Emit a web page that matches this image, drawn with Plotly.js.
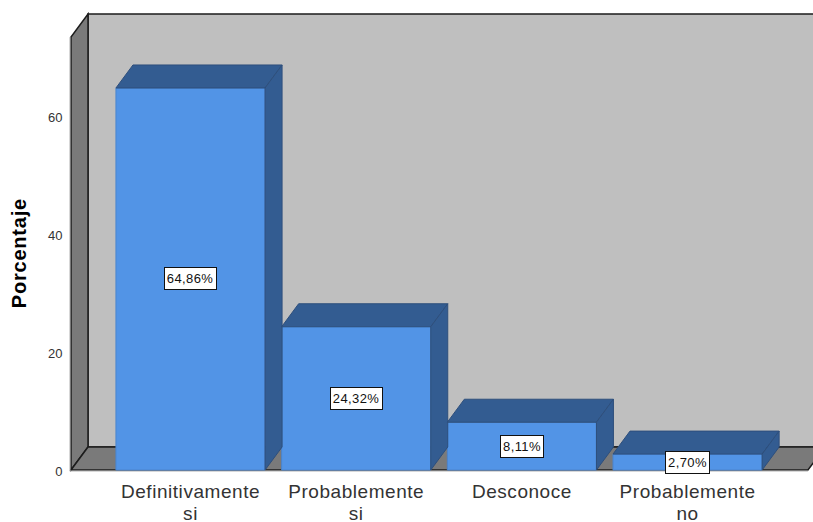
<!DOCTYPE html>
<html><head><meta charset="utf-8">
<script src="https://cdn.plot.ly/plotly-3.0.1.min.js"></script>
<style>html,body{margin:0;padding:0;background:#fff}
.xtick text{letter-spacing:.55px}
.annotation text{letter-spacing:.4px}
.annotation[data-index="4"] text{letter-spacing:.8px}
</style>
</head><body><div id="chart" style="width:813px;height:522px"></div>
<script>
const categories = ['Definitivamente<br>si','Probablemente<br>si','Desconoce','Probablemente<br>no'];
const values = [64.86,24.32,8.11,2.70];
const yTicks = [0,20,40,60];

const positions = categories.map((c,i)=>i);
const barWidth = 0.9, depthX = 0.1026, depthY = 3.905;
const xMin = -0.7394, xMax = 3.757, wallLeft = -0.7213, yMin = -0.51, yMax = 78.44, yWallTop = 73.5;
const FRONT='#5294E6', DARK='#335C91', EDGE='#2E4F7C', WALL='#BFBFBF', SIDE='#7A7A7A', INK='#1c1c1c', RULE='#c4c4c4';

function poly(xs,ys,fill,line,w){
  return {type:'path',xref:'x',yref:'y',layer:'below',fillcolor:fill,line:{color:line,width:w},
    path:xs.map((x,i)=>(i?'L':'M')+x+','+ys[i]).join(' ')+' Z'};
}
function rule(a,b,c,d){
  return {type:'line',xref:'x',yref:'y',layer:'below',x0:a,y0:b,x1:c,y1:d,line:{color:RULE,width:1}};
}
const x0=wallLeft, x1=wallLeft+depthX, xEnd=xMax+0.072;
const shapes=[
  poly([x1,xEnd,xEnd,x1],[depthY,depthY,yWallTop+depthY,yWallTop+depthY],WALL,INK,1.5),
  poly([x0,x1,x1,x0],[0,depthY,yWallTop+depthY,yWallTop],SIDE,INK,1.5),
  poly([x0,x1,xEnd,xEnd-depthX],[0,depthY,depthY,0],SIDE,INK,1.5),
  rule(x0-0.007,-0.2,x0-0.007,yWallTop),
  rule(x0-0.007,-0.2,xEnd-depthX,-0.2)
];

const traces=[{
  type:'bar',x:positions,y:values,width:barWidth,
  marker:{color:FRONT,line:{color:'#4A84CE',width:1}},hoverinfo:'skip',showlegend:false
}];
positions.forEach((p,i)=>{
  const l=p-barWidth/2,r=p+barWidth/2,v=values[i];
  traces.push({type:'scatter',mode:'lines',fill:'toself',fillcolor:DARK,line:{color:EDGE,width:1},
    x:[l,l+depthX,r+depthX,r,l],y:[v,v+depthY,v+depthY,v,v],hoverinfo:'skip',showlegend:false});
  traces.push({type:'scatter',mode:'lines',fill:'toself',fillcolor:DARK,line:{color:EDGE,width:1},
    x:[r,r+depthX,r+depthX,r,r],y:[0,depthY,v+depthY,v,0],hoverinfo:'skip',showlegend:false});
});

const annotations=positions.map((p,i)=>({
  x:p,y:values[i]/2,xref:'x',yref:'y',showarrow:false,
  text:values[i].toFixed(2).replace('.',',')+'%',
  font:{family:'Liberation Sans',size:13,color:'#111'},
  bgcolor:'#fff',bordercolor:'#111',borderwidth:1,borderpad:3
}));
annotations.push({
  x:-0.0658,y:36.8,xref:'paper',yref:'y',xanchor:'center',yanchor:'middle',showarrow:false,textangle:-90,
  text:'<b>Porcentaje</b>',font:{family:'Liberation Sans',size:20,color:'#000'}
});

const layout={
  width:813,height:522,margin:{l:68,r:0,t:8,b:49},
  paper_bgcolor:'#fff',plot_bgcolor:'#fff',showlegend:false,bargap:0,
  shapes,annotations,
  xaxis:{range:[xMin,xMax],tickmode:'array',tickvals:positions,ticktext:categories,
    tickfont:{family:'Liberation Sans',size:19,color:'#333'},ticks:'outside',ticklen:1,tickcolor:'rgba(0,0,0,0)',
    showgrid:false,zeroline:false,showline:false},
  yaxis:{range:[yMin,yMax],tickmode:'array',tickvals:yTicks,
    tickfont:{family:'Liberation Sans',size:13,color:'#333'},ticks:'outside',ticklen:2,tickcolor:'rgba(0,0,0,0)',
    ticklabelshift:1,
    showgrid:false,zeroline:false,showline:false}
};
Plotly.newPlot('chart',traces,layout,{displayModeBar:false,staticPlot:true}).then(()=>{
  document.querySelectorAll('.xtick tspan.line').forEach(t=>{
    if(parseFloat(t.getAttribute('dy'))>0) t.setAttribute('dy','22px');
  });
});
</script></body></html>
